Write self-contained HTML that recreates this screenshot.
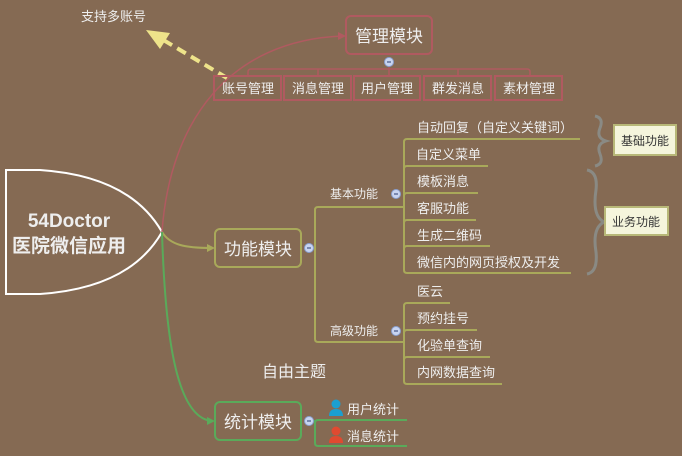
<!DOCTYPE html>
<html><head><meta charset="utf-8"><style>
body{margin:0;background:#856a53;}
svg{display:block;font-family:"Liberation Sans","Noto Sans CJK SC",sans-serif;}
</style></head><body>
<svg width="682" height="456" viewBox="0 0 682 456" xmlns="http://www.w3.org/2000/svg">
<rect width="682" height="456" fill="#856a53"/>
<!-- root -->
<path d="M6,170 L6,294 L40,294 Q130,288 162,232 Q130,176 40,170 Z" fill="none" stroke="#fff" stroke-width="2"/>
<text x="69" y="227" font-size="19" font-weight="bold" fill="#eee" text-anchor="middle">54Doctor</text>
<text x="69" y="252" font-size="19" font-weight="bold" fill="#eee" text-anchor="middle">医院微信应用</text>
<!-- main connectors -->
<path d="M162,232 C170,120 230,40 343,36" fill="none" stroke="#b05a60" stroke-width="1.5"/>
<path d="M338,32 L346,36 L338,40Z" fill="#b05a60"/>
<path d="M162,232 C170,245 185,248 212,248" fill="none" stroke="#a9a95a" stroke-width="2"/>
<path d="M207,244 L215,248 L207,252Z" fill="#a9a95a"/>
<path d="M162,232 C165,330 175,418 212,421" fill="none" stroke="#5aaa5a" stroke-width="2"/>
<path d="M207,417 L215,421 L207,425Z" fill="#5aaa5a"/>
<!-- dashed arrow -->
<line x1="227" y1="78" x2="160" y2="38" stroke="#eee38a" stroke-width="4" stroke-dasharray="10,6"/>
<path d="M146,30 L170,33 L160,49 Z" fill="#eee38a"/>
<text x="81" y="21" font-size="13" fill="#eee">支持多账号</text>
<!-- management -->
<rect x="346" y="16" width="86" height="38" rx="5" fill="none" stroke="#b05a60" stroke-width="2"/>
<text x="389" y="42" font-size="17" fill="#eee" text-anchor="middle">管理模块</text>
<path d="M248,76 V72 Q248,69 251,69 H527 Q530,69 530,72 V76 M318,69 V76 M389,69 V76 M389,62 V69 M458,69 V76" fill="none" stroke="#b05a60" stroke-width="1.5"/>
<g fill="none" stroke="#b05a60" stroke-width="2">
<rect x="214" y="76" width="67" height="24"/><rect x="284" y="76" width="67" height="24"/><rect x="354" y="76" width="66" height="24"/><rect x="424" y="76" width="67" height="24"/><rect x="495" y="76" width="67" height="24"/>
</g>
<g font-size="13" fill="#eee" text-anchor="middle">
<text x="248" y="93">账号管理</text><text x="318" y="93">消息管理</text><text x="387" y="93">用户管理</text><text x="458" y="93">群发消息</text><text x="529" y="93">素材管理</text>
</g>
<!-- function -->
<rect x="215" y="229" width="86" height="38" rx="5" fill="none" stroke="#a9a95a" stroke-width="2"/>
<text x="258" y="255" font-size="17" fill="#eee" text-anchor="middle">功能模块</text>
<g fill="none" stroke="#a9a95a" stroke-width="2">
<path d="M309,248 H315 M403,207 H318 Q315,207 315,210 V339 Q315,342 318,342 H403"/>
<path d="M580,139 H407 Q404,139 404,142 V270 Q404,273 407,273 H571"/>
<path d="M488,166 H407 Q404,166 404,169"/><path d="M478,193 H407 Q404,193 404,196"/><path d="M476,220 H407 Q404,220 404,223"/><path d="M490,246 H407 Q404,246 404,249"/>
<path d="M450,303 H407 Q404,303 404,306 V381 Q404,384 407,384 H502"/>
<path d="M477,330 H407 Q404,330 404,333"/><path d="M490,357 H407 Q404,357 404,360"/>
</g>
<g font-size="12" fill="#eee">
<text x="330" y="198">基本功能</text><text x="330" y="335">高级功能</text>
</g>
<g font-size="13" fill="#eee">
<text x="417" y="132">自动回复（自定义关键词）</text><text x="416" y="159">自定义菜单</text><text x="417" y="186">模板消息</text><text x="417" y="213">客服功能</text><text x="417" y="240">生成二维码</text><text x="417" y="267">微信内的网页授权及开发</text>
<text x="417" y="296">医云</text><text x="417" y="323">预约挂号</text><text x="417" y="350">化验单查询</text><text x="417" y="377">内网数据查询</text>
</g>
<!-- braces -->
<g fill="none" stroke="#8a8a84" stroke-width="3">
<path d="M595,116 Q604,118 600,128 Q596,138 606,141 Q596,144 600,154 Q604,164 595,166"/>
<path d="M587,170 Q598,172 596,190 Q592,216 604,222 Q592,228 596,252 Q598,272 587,274"/>
</g>
<rect x="614" y="125" width="62" height="30" fill="#f5f5dc" stroke="#b8b878" stroke-width="2"/>
<text x="645" y="145" font-size="12" fill="#333" text-anchor="middle">基础功能</text>
<rect x="605" y="207" width="63" height="28" fill="#f5f5dc" stroke="#b8b878" stroke-width="2"/>
<text x="636" y="226" font-size="12" fill="#333" text-anchor="middle">业务功能</text>
<!-- free topic -->
<text x="262" y="377" font-size="16" fill="#eee">自由主题</text>
<!-- stats -->
<rect x="215" y="402" width="86" height="38" rx="5" fill="none" stroke="#5aaa5a" stroke-width="2"/>
<text x="258" y="428" font-size="17" fill="#eee" text-anchor="middle">统计模块</text>
<path d="M309,421 H315 M407,420 H318 Q315,420 315,423 V443 Q315,446 318,446 H407" fill="none" stroke="#5aaa5a" stroke-width="2"/>
<g fill="#1a9fd0"><circle cx="336" cy="404" r="4.5"/><path d="M329,416 Q329,409 336,409 Q343,409 343,416Z"/></g>
<g fill="#e04a30"><circle cx="336" cy="431" r="4.5"/><path d="M329,443 Q329,436 336,436 Q343,436 343,443Z"/></g>
<text x="347" y="414" font-size="13" fill="#eee">用户统计</text>
<text x="347" y="441" font-size="13" fill="#eee">消息统计</text>
<!-- minus icons -->
<g fill="#c8d4f0" stroke="#8aa0d0" stroke-width="1">
<circle cx="389" cy="62" r="4.5"/><circle cx="309" cy="248" r="4.5"/><circle cx="396" cy="194" r="4.5"/><circle cx="396" cy="331" r="4.5"/><circle cx="309" cy="421" r="4.5"/>
</g>
<g stroke="#4a5a8a" stroke-width="1.2">
<path d="M387,62h4M307,248h4M394,194h4M394,331h4M307,421h4"/>
</g>
</svg>
</body></html>
